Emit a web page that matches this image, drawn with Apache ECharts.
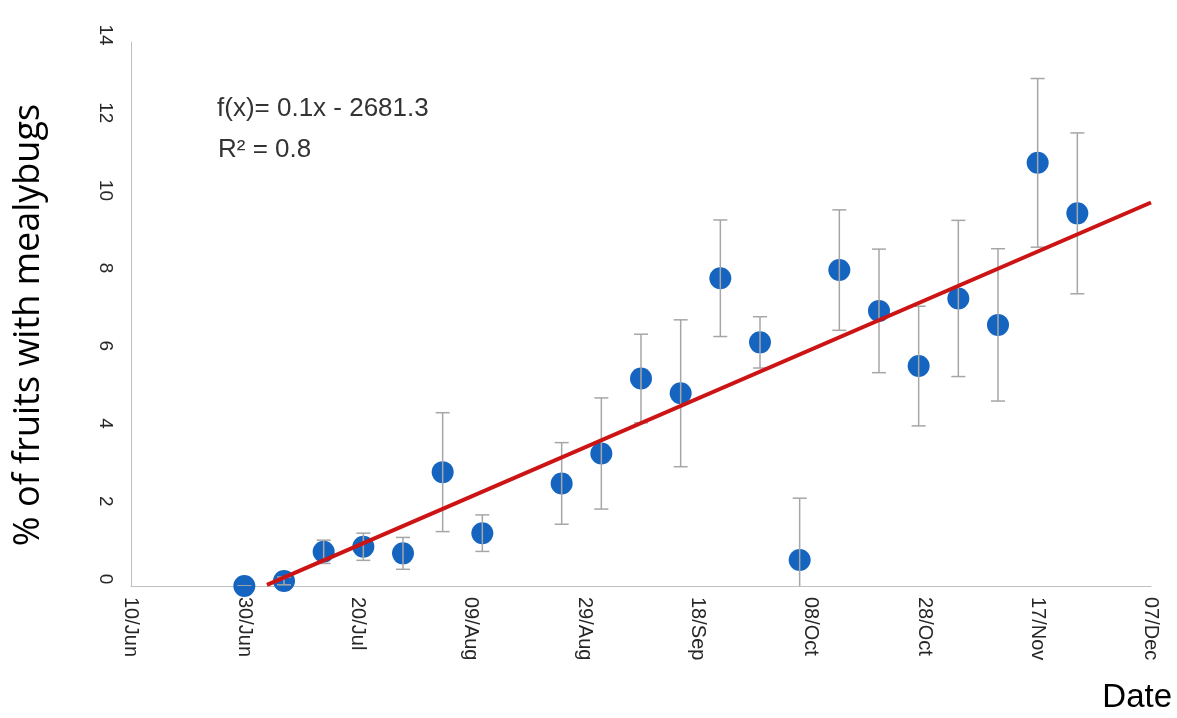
<!DOCTYPE html>
<html>
<head>
<meta charset="utf-8">
<title>% of fruits with mealybugs</title>
<script src="https://cdn.jsdelivr.net/npm/echarts@6/dist/echarts.min.js"></script>
<style>
  html, body { margin: 0; padding: 0; background: #ffffff; }
  #chart { width: 1177px; height: 718px; }
</style>
</head>
<body>
<div id="chart"></div>
<script>
// Weekly sampling dates (dd/Mon)
const sampleDates = ['30/Jun', '07/Jul', '14/Jul', '21/Jul', '28/Jul', '04/Aug', '11/Aug',
  '25/Aug', '01/Sep', '08/Sep', '15/Sep', '22/Sep', '29/Sep', '06/Oct', '13/Oct',
  '20/Oct', '27/Oct', '03/Nov', '10/Nov', '17/Nov', '24/Nov'];
// Mean % of fruits with mealybugs on each date
const infestation = [0, 0.13, 0.88, 1.01, 0.84, 2.93, 1.36,
  2.64, 3.41, 5.34, 4.96, 7.92, 6.27, 0.67, 8.13,
  7.08, 5.66, 7.40, 6.72, 10.89, 9.59];
// Half-width of the error bar for each date
const errorHalf = [0, 0.1, 0.3, 0.35, 0.41, 1.53, 0.47,
  1.05, 1.43, 1.14, 1.89, 1.5, 0.66, 1.59, 1.55,
  1.59, 1.54, 2.01, 1.96, 2.17, 2.07];
// Linear trend line end points
const trendDates = ['04/Jul', '07/Dec'];
const trendValues = [0.03, 9.87];
// Date axis tick labels, one every 20 days
const dateTicks = ['10/Jun', '30/Jun', '20/Jul', '09/Aug', '29/Aug', '18/Sep',
  '08/Oct', '28/Oct', '17/Nov', '07/Dec'];
const valueTicks = [0, 2, 4, 6, 8, 10, 12, 14];
const equationLines = ['f(x)= 0.1x - 2681.3', 'R\u00b2 = 0.8'];

const MONTHS = ['Jan', 'Feb', 'Mar', 'Apr', 'May', 'Jun', 'Jul', 'Aug', 'Sep', 'Oct', 'Nov', 'Dec'];
const YEAR = 2016;
const ORIGIN = Date.UTC(YEAR, 5, 10);
const DAY_MS = 86400000;
const TICK_STEP = 20;

// Days elapsed since the first tick date
function dayOf(label) {
  const [d, m] = label.split('/');
  return Math.round((Date.UTC(YEAR, MONTHS.indexOf(m), +d) - ORIGIN) / DAY_MS);
}

const points = sampleDates.map((d, i) => [dayOf(d), infestation[i]]);
const bars = sampleDates.map((d, i) => [dayOf(d), infestation[i] - errorHalf[i], infestation[i] + errorHalf[i]]);
const trend = trendDates.map((d, i) => [dayOf(d), trendValues[i]]);

const chart = echarts.init(document.getElementById('chart'), null, { renderer: 'canvas' });

const BASE_FONT = '"Liberation Sans", Arial, sans-serif';

chart.setOption({
  animation: false,
  backgroundColor: '#ffffff',
  grid: { left: 131, right: 26, top: 42, bottom: 132, containLabel: false },
  xAxis: {
    type: 'value',
    min: 0,
    max: dayOf(dateTicks[dateTicks.length - 1]),
    interval: TICK_STEP,
    axisLine: { show: true, lineStyle: { color: '#bfbfbf', width: 1 } },
    axisTick: { show: false },
    splitLine: { show: false },
    axisLabel: {
      rotate: -90,
      margin: 11,
      color: '#262626',
      fontFamily: BASE_FONT,
      fontSize: 20,
      formatter: v => dateTicks[Math.round(v / TICK_STEP)] || ''
    }
  },
  yAxis: {
    type: 'value',
    min: valueTicks[0],
    max: valueTicks[valueTicks.length - 1],
    interval: valueTicks[1] - valueTicks[0],
    axisLine: { show: true, lineStyle: { color: '#bfbfbf', width: 1 } },
    axisTick: { show: false },
    splitLine: { show: false },
    axisLabel: {
      rotate: -90,
      margin: 16,
      color: '#262626',
      fontFamily: BASE_FONT,
      fontSize: 19,
      padding: [0, 14, 0, 0]
    },
    name: '% of fruits with mealybugs',
    nameLocation: 'middle',
    nameRotate: 90,
    nameGap: 84,
    nameTextStyle: {
      fontFamily: '"Open Sans", "Noto Sans", sans-serif',
      fontSize: 36,
      color: '#000000',
      padding: [0, 22, 0, 0]
    }
  },
  series: [
    {
      name: 'Mean',
      type: 'scatter',
      data: points,
      symbol: 'circle',
      symbolSize: 22,
      itemStyle: { color: '#1565c0', opacity: 1 },
      z: 2
    },
    {
      name: 'Error',
      type: 'custom',
      data: bars,
      clip: true,
      z: 3,
      renderItem: function (params, api) {
        const x = api.value(0);
        const lo = api.coord([x, api.value(1)]);
        const hi = api.coord([x, api.value(2)]);
        const cap = 7;
        const style = { stroke: '#a6a6a6', lineWidth: 1.5 };
        return {
          type: 'group',
          children: [
            { type: 'line', shape: { x1: hi[0], y1: hi[1], x2: lo[0], y2: lo[1] }, style },
            { type: 'line', shape: { x1: hi[0] - cap, y1: hi[1], x2: hi[0] + cap, y2: hi[1] }, style },
            { type: 'line', shape: { x1: lo[0] - cap, y1: lo[1], x2: lo[0] + cap, y2: lo[1] }, style }
          ]
        };
      },
      encode: { x: 0, y: [1, 2] }
    },
    {
      name: 'Trend',
      type: 'line',
      data: trend,
      showSymbol: false,
      symbol: 'none',
      lineStyle: { color: '#cc1414', width: 4 },
      z: 4
    }
  ],
  graphic: [
    {
      type: 'text', left: 217, top: 96,
      style: { text: equationLines[0], font: '26px ' + BASE_FONT, fill: '#333333' }
    },
    {
      type: 'text', left: 218, top: 137,
      style: { text: equationLines[1], font: '26px ' + BASE_FONT, fill: '#333333' }
    },
    {
      type: 'text', right: 5, top: 681,
      style: { text: 'Date', font: '33px ' + BASE_FONT, fill: '#000000' }
    }
  ]
});
</script>
</body>
</html>
